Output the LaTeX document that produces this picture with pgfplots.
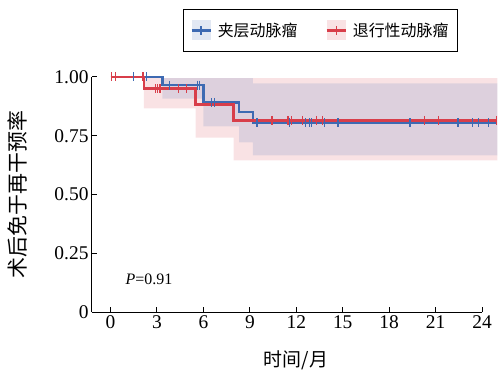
\documentclass[border=0pt]{standalone}
\usepackage{pgfplots}
\pgfplotsset{compat=1.18}
\usepackage{fontspec}
\setmainfont{Liberation Serif}
\newfontfamily\cjk{Noto Sans CJK SC}
\definecolor{blueC}{RGB}{62,106,178}
\definecolor{redC}{RGB}{216,62,74}
\begin{document}
\begin{tikzpicture}
\useasboundingbox (-92bp,-58bp) rectangle (406bp,312bp);
\begin{axis}[
  at={(0,0)}, anchor=south west,
  scale only axis, width=390bp, height=235bp,
  xmin=-1.2, xmax=24, ymin=0, ymax=1,
  clip=false,
  axis lines*=left,
  axis line style={line width=1bp, black},
  tick align=inside, tick style={line width=1bp, black}, major tick length=5bp,
  xtick={0,3,...,24},
  ytick={0,0.25,0.5,0.75,1},
  yticklabels={0,0.25,0.50,0.75,1.00},
  /pgf/number format/assume math mode=true,
  tick label style={font=\fontsize{19.5}{22}\selectfont},
  xlabel={\cjk 时间/月},
  xlabel style={font=\fontsize{19}{22}\selectfont, at={(axis description cs:0.523,-0.204)}, anchor=center},
  ylabel={\cjk 术后免于再干预率},
  ylabel style={font=\fontsize{21}{24}\selectfont, at={(axis description cs:-0.19,0.5)}, anchor=center},
  legend columns=2,
  legend style={at={(0.233,1.29)}, anchor=north west, draw=black, line width=1bp,
    font=\cjk\fontsize{16}{18}\selectfont, inner xsep=7bp, inner ysep=11bp,
    /tikz/every odd column/.append style={column sep=4bp},
    /tikz/every even column/.append style={column sep=26bp}},
  legend cell align=left,
]
% confidence bands
\addplot[forget plot, draw=none, fill=redC, fill opacity=0.15] coordinates {
 (2.15,0.995) (25,0.995) (25,0.645) (7.95,0.645) (7.95,0.742) (5.5,0.742) (5.5,0.866) (2.15,0.866)} -- cycle;
\addplot[forget plot, draw=none, fill=blueC, fill opacity=0.15] coordinates {
 (3.35,0.995) (9.2,0.995) (9.2,0.973) (25,0.973) (25,0.667) (9.2,0.667) (9.2,0.722) (8.3,0.722) (8.3,0.79) (6.0,0.79) (6.0,0.908) (3.35,0.908)} -- cycle;
% survival curves
\addplot[const plot, blueC, line width=2.5bp, mark=none,
  legend image code/.code={\path[fill=blueC, fill opacity=0.15, draw=none] (0bp,-10bp) rectangle (19bp,10bp);
   \path[draw=blueC, line width=2.4bp] (0bp,0bp) -- (19bp,0bp);
   \path[draw=blueC, line width=1.2bp] (9.5bp,-4.5bp) -- (9.5bp,4.5bp);}]
 coordinates {(0,1) (3.35,0.965) (6.0,0.892) (8.3,0.852) (9.2,0.806) (25,0.806)};
\addlegendentry{夹层动脉瘤}
\addplot[const plot, redC, line width=2.5bp, mark=none,
  legend image code/.code={\path[fill=redC, fill opacity=0.15, draw=none] (0bp,-10bp) rectangle (19bp,10bp);
   \path[draw=redC, line width=2.4bp] (0bp,0bp) -- (19bp,0bp);
   \path[draw=redC, line width=1.2bp] (9.5bp,-4.5bp) -- (9.5bp,4.5bp);}]
 coordinates {(0,1) (2.15,0.951) (5.5,0.883) (7.95,0.815) (25,0.815)};
\addlegendentry{退行性动脉瘤}
% censor marks
\addplot[forget plot, only marks, redC, mark=|, mark size=4.5bp, mark options={line width=1.2bp}]
 coordinates {(0.05,1) (0.3,1) (2.1,1) (2.9,0.951) (3.05,0.951) (3.2,0.951) (4.37,0.951) (4.9,0.951)
 (10.43,0.815) (11.46,0.815) (11.7,0.815) (12.4,0.815) (13.33,0.815) (13.7,0.815) (20.3,0.815) (21.2,0.815) (24.95,0.815)};
\addplot[forget plot, only marks, blueC, mark=|, mark size=4.5bp, mark options={line width=1.2bp}]
 coordinates {(1.5,1) (2.3,1) (3.83,0.965) (5.6,0.965) (5.75,0.965) (6.5,0.892) (6.73,0.892)
 (9.46,0.806) (11.55,0.806) (12.6,0.806) (12.86,0.806) (13.0,0.806) (13.8,0.806) (14.7,0.806)
 (19.35,0.806) (22.45,0.806) (23.4,0.806) (23.76,0.806) (24.4,0.806)};
\node[anchor=west, font=\fontsize{16}{18}\selectfont] at (axis cs:0.75,0.137) {\textit{P}=0.91};
\end{axis}
\end{tikzpicture}
\end{document}
